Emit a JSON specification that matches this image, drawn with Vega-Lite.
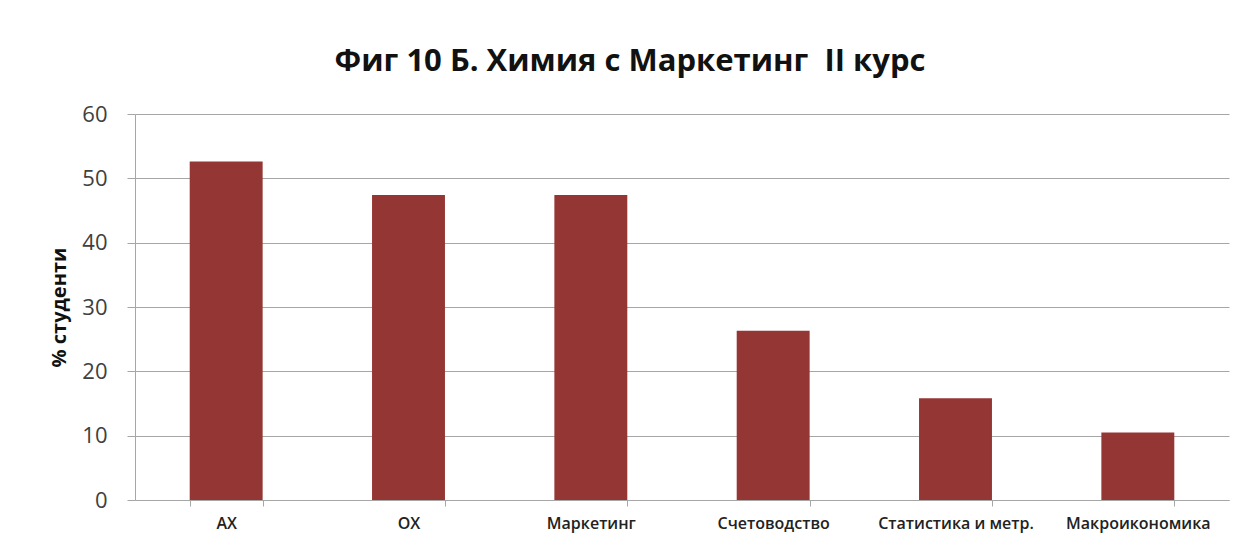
{
  "$schema": "https://vega.github.io/schema/vega-lite/v6.json",
  "width": 1094,
  "height": 386,
  "autosize": {"type": "none"},
  "padding": {"left": 135, "top": 114, "right": 18, "bottom": 47},
  "background": "#ffffff",
  "title": {
    "text": "Фиг 10 Б. Химия с Маркетинг\u00a0\u00a0II курс",
    "font": "Open Sans",
    "fontSize": 31,
    "fontWeight": "bold",
    "color": "#111111",
    "anchor": "middle",
    "dx": -52,
    "offset": 25
  },
  "data": {
    "values": [
      {"subject": "АХ", "pct": 52.6},
      {"subject": "ОХ", "pct": 47.4},
      {"subject": "Маркетинг", "pct": 47.4},
      {"subject": "Счетоводство", "pct": 26.3},
      {"subject": "Статистика и метр.", "pct": 15.8},
      {"subject": "Макроикономика", "pct": 10.5}
    ]
  },
  "mark": {"type": "bar", "color": "#943634"},
  "encoding": {
    "x": {
      "field": "subject",
      "type": "nominal",
      "sort": null,
      "scale": {"paddingInner": 0.6, "paddingOuter": 0.3},
      "axis": {
        "title": null,
        "labelAngle": 0,
        "labelFont": "Open Sans",
        "labelFontSize": 16,
        "labelFontWeight": 600,
        "labelColor": "#222222",
        "labelPadding": 9,
        "tickBand": "extent",
        "ticks": true,
        "tickSize": 6,
        "tickColor": "#a6a6a6",
        "domainColor": "#a6a6a6",
        "grid": false
      }
    },
    "y": {
      "field": "pct",
      "type": "quantitative",
      "scale": {"domain": [0, 60]},
      "axis": {
        "title": "% студенти",
        "titleFont": "Open Sans",
        "titleFontSize": 20,
        "titleFontWeight": "bold",
        "titleColor": "#111111",
        "titlePadding": 12,
        "values": [0, 10, 20, 30, 40, 50, 60],
        "labelFont": "Open Sans",
        "labelFontSize": 22,
        "labelColor": "#404040",
        "labelPadding": 20,
        "tickSize": 8,
        "tickColor": "#a6a6a6",
        "domainColor": "#a6a6a6",
        "gridColor": "#a6a6a6",
        "grid": true
      }
    }
  },
  "config": {"view": {"stroke": null}}
}
